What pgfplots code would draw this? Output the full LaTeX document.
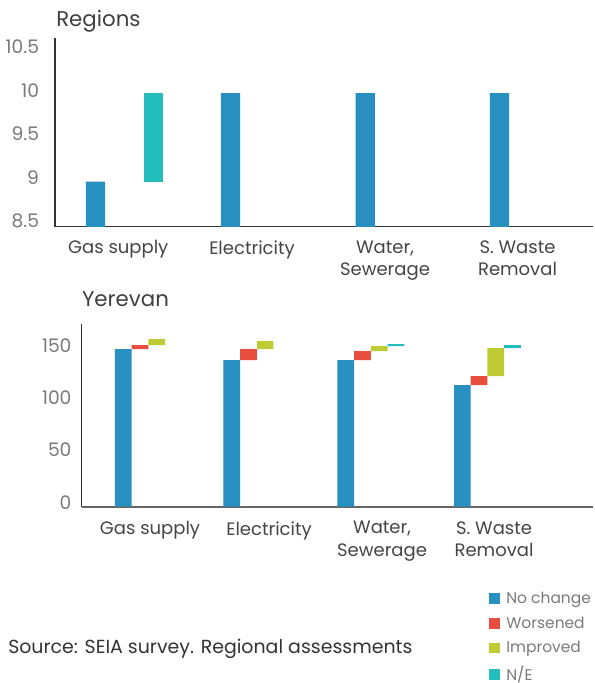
\documentclass[border=0pt]{standalone}
\usepackage{fontspec}
\setmainfont{Poppins}
\usepackage{pgfplots}
\pgfplotsset{compat=1.18}
\usepackage{pgfplotstable}

\definecolor{nochange}{HTML}{2790C0}
\definecolor{worse}{HTML}{E84E3D}
\definecolor{better}{HTML}{BECB32}
\definecolor{nae}{HTML}{22BDBC}
\definecolor{ticktxt}{HTML}{7A7A7A}
\definecolor{cattxt}{HTML}{454545}

% bar centre (px), start of the bar, and the segment of each kind
\pgfplotstableread{
x     lo    nc    ne
95.5  0     8.95  0
153.1 8.95  0     1.02
230.5 0     9.97  0
365.2 0     9.97  0
499.5 0     9.97  0
}\regions

\pgfplotstableread{
x     lo     nc     w     i     ne
123.3 0      151.1  0     0     0
140.0 151.1  0      3.8   0     0
156.7 154.9  0      0     5.7   0
231.7 0      140.5  0     0     0
248.4 140.5  0      10.6  0     0
265.1 151.1  0      0     7.6   0
345.7 0      140.5  0     0     0
362.4 140.5  0      8.6   0     0
379.1 149.1  0      0     4.8   0
395.8 153.9  0      0     0     2.0
462.3 0      116.6  0     0     0
479.0 116.6  0      8.6   0     0
495.7 125.2  0      0     26.8  0
512.4 152.0  0      0     0     2.9
}\yerevan

\pgfplotsset{
  wfall/.style={
    scale only axis,
    anchor=south west,
    ybar stacked,
    major tick length=0pt,
    axis x line*=bottom,
    axis y line*=left,
    /pgf/number format/assume math mode=true,
    xticklabel style={align=center, inner sep=0pt, text=cattxt,
      font=\fontsize{13.5}{17}\selectfont},
    yticklabel style={inner sep=0pt, text=ticktxt,
      font=\fontsize{14}{16}\selectfont},
    xtick={118.3,252,385,517.5},
    xticklabels={Gas supply, Electricity, {Water,\\Sewerage}, {S. Waste\\Removal}},
  },
}

\begin{document}
\begin{tikzpicture}
\path[use as bounding box] (0pt,0pt) rectangle (445.5pt,512.25pt);

\begin{axis}[wfall,
  at={(41.25pt,342.2pt)},
  width=403.5pt, height=141.3pt,
  xmin=55, xmax=593, ymin=8.43, ymax=10.6,
  bar width=19.2,
  axis line style={draw=black!80, line width=0.8pt},
  ytick={8.5,9,9.5,10,10.5},
  yticklabel style={xshift=-11.8pt},
  xticklabel style={yshift=-10.2pt},
]
\addplot [draw=none, fill=none, forget plot] table [x=x, y=lo] \regions;
\addplot [fill=nochange, draw=none] table [x=x, y=nc] \regions;
\addplot [fill=nae, draw=none] table [x=x, y=ne] \regions;
\end{axis}

\begin{axis}[wfall,
  at={(61.3pt,132.2pt)},
  width=383.5pt, height=137pt,
  xmin=81.7, xmax=593, ymin=0, ymax=175,
  bar width=16.7,
  x axis line style={draw=black!60, line width=1.3pt},
  y axis line style={draw=black!80, line width=0.8pt},
  ytick={0,50,100,150},
  yticklabel style={xshift=-7.5pt, yshift=3.4pt},
  xticklabel style={yshift=-10.8pt},
  xtick={150,269,382,494},
  legend image code/.code={\fill[#1] (0pt,-4.1pt) rectangle (8.25pt,4.1pt);},
  legend cell align=left,
  legend style={at={(0.7966,-0.452)}, anchor=north west, draw=none, fill=none,
    inner sep=0pt, row sep=4.3pt, text=ticktxt,
    /tikz/every odd column/.append style={column sep=2.5pt},
    font=\fontsize{11.6}{14}\selectfont},
]
\addplot [draw=none, fill=none, forget plot] table [x=x, y=lo] \yerevan;
\addplot [fill=nochange, draw=none] table [x=x, y=nc] \yerevan;
\addplot [fill=worse, draw=none] table [x=x, y=w] \yerevan;
\addplot [fill=better, draw=none] table [x=x, y=i] \yerevan;
\addplot [fill=nae, draw=none] table [x=x, y=ne] \yerevan;
\legend{No change, Worsened, Improved, N/E}
\end{axis}

\node[anchor=base west, inner sep=0pt, text=black!75, font=\fontsize{16}{19}\selectfont]
  at (42pt,492.2pt) {Regions};
\node[anchor=base west, inner sep=0pt, text=black!75, font=\fontsize{16}{19}\selectfont]
  at (61.3pt,282pt) {Yerevan};
\node[anchor=base west, inner sep=0pt, text=black!80, font=\fontsize{14.2}{17}\selectfont]
  at (6pt,21.75pt) {Source: SEIA survey. Regional assessments};
\end{tikzpicture}
\end{document}
